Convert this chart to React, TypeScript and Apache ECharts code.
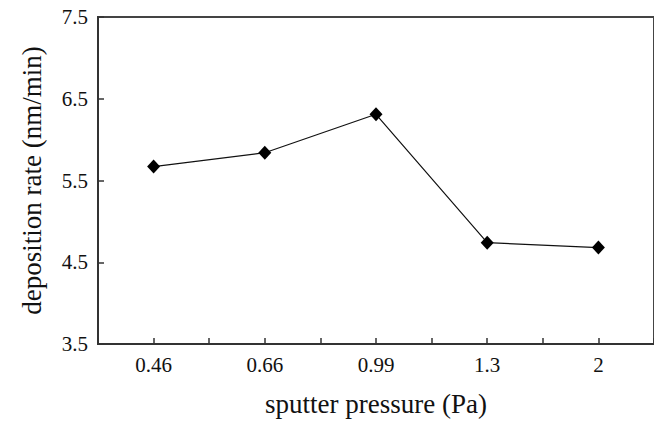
import React, { useEffect, useRef } from "react";
import * as echarts from "echarts";

const pressures: string[] = ["0.46", "0.66", "0.99", "1.3", "2"];
const rates: number[] = [5.67, 5.84, 6.31, 4.74, 4.68];
const yTicks: number[] = [3.5, 4.5, 5.5, 6.5, 7.5];

const FONT = "'Liberation Serif', 'Times New Roman', serif";
const AXIS_COLOR = "#333";
const TEXT_COLOR = "#111";

export default function App() {
  const ref = useRef<HTMLDivElement>(null);
  useEffect(() => {
    if (!ref.current) return;
    const chart = echarts.init(ref.current, undefined, { renderer: "svg" });
    chart.setOption({
      animation: false,
      backgroundColor: "#fff",
      grid: {
        left: 98,
        top: 17,
        right: -4,
        bottom: 73,
        show: true,
        borderColor: "#444",
        borderWidth: 2,
        backgroundColor: "transparent",
      },
      xAxis: [
        {
          type: "category",
          data: pressures,
          position: "bottom",
          boundaryGap: true,
          name: "sputter pressure (Pa)",
          nameLocation: "middle",
          nameGap: 46,
          nameTextStyle: { fontFamily: FONT, fontSize: 27, color: TEXT_COLOR },
          axisLine: { show: true, lineStyle: { color: AXIS_COLOR, width: 2 } },
          axisTick: { show: true, inside: true, length: 6, alignWithLabel: false, lineStyle: { color: AXIS_COLOR, width: 1.5 } },
          axisLabel: { fontFamily: FONT, fontSize: 21, color: TEXT_COLOR, margin: 10 },
          splitLine: { show: false },
        },
        {
          type: "category",
          data: pressures,
          position: "bottom",
          boundaryGap: true,
          axisLine: { show: false },
          axisTick: { show: true, inside: true, length: 6, alignWithLabel: true, lineStyle: { color: AXIS_COLOR, width: 1.5 } },
          axisLabel: { show: false },
          splitLine: { show: false },
        },
      ],
      yAxis: {
        type: "value",
        min: 3.5,
        max: 7.5,
        name: "deposition rate (nm/min)",
        nameLocation: "middle",
        nameGap: 53,
        nameRotate: 90,
        nameTextStyle: { fontFamily: FONT, fontSize: 27, color: TEXT_COLOR },
        axisLine: { show: true, lineStyle: { color: AXIS_COLOR, width: 2 } },
        axisTick: { show: true, inside: true, length: 6, customValues: yTicks, lineStyle: { color: AXIS_COLOR, width: 1.5 } },
        axisLabel: {
          fontFamily: FONT,
          fontSize: 21,
          color: TEXT_COLOR,
          margin: 10,
          customValues: yTicks,
          formatter: (v: number) => v.toFixed(1),
        },
        splitLine: { show: false },
      },
      series: [
        {
          type: "line",
          xAxisIndex: 0,
          data: rates,
          symbol: "diamond",
          symbolSize: [13, 14],
          itemStyle: { color: "#000" },
          lineStyle: { color: "#111", width: 1.2 },
        },
      ],
    });
    return () => chart.dispose();
  }, []);
  return (
    <div
      ref={ref}
      style={{ position: "fixed", left: 0, top: 0, width: 654, height: 422, background: "#fff" }}
    />
  );
}
